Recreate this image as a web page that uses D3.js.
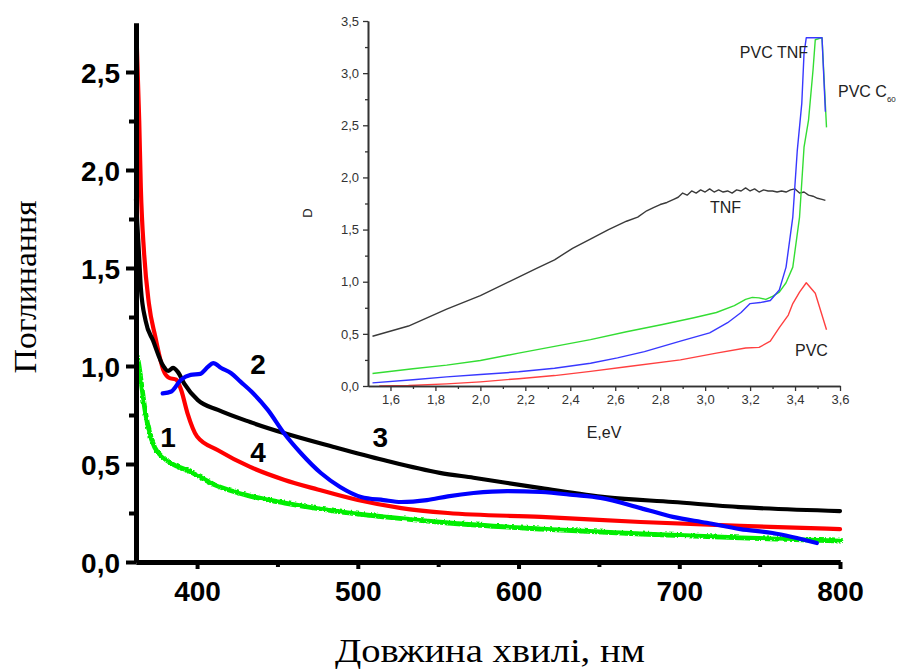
<!DOCTYPE html>
<html><head><meta charset="utf-8">
<script src="https://cdn.jsdelivr.net/npm/d3@7"></script>
<style>
html,body{margin:0;padding:0;background:#fff;}
svg{display:block;}
</style></head>
<body>
<svg id="chart" width="904" height="671"></svg>
<script>
// ---------- Main chart data (wavelength nm, absorbance) ----------
const curve1Wl  = [362, 363, 365, 367, 370, 373, 378, 384, 394, 410, 433, 454, 485, 516, 556, 614, 676, 738, 800];
const curve1Abs = [1.06, 1.02, 0.9, 0.78, 0.66, 0.59, 0.54, 0.505, 0.47, 0.40, 0.34, 0.306, 0.265, 0.235, 0.204, 0.173, 0.148, 0.128, 0.112];

const curve2Wl  = [378.6, 384, 390, 396, 402, 406.7, 410, 415, 421, 427, 435, 444, 454, 464.5, 477, 489, 502, 516, 527, 543, 556, 572, 593, 614, 634, 651, 676, 696, 717, 738, 758, 785.6];
const curve2Abs = [0.86, 0.87, 0.93, 0.955, 0.96, 0.995, 1.015, 0.99, 0.964, 0.92, 0.86, 0.776, 0.658, 0.556, 0.454, 0.383, 0.332, 0.316, 0.306, 0.316, 0.335, 0.352, 0.362, 0.357, 0.342, 0.327, 0.275, 0.23, 0.2, 0.168, 0.148, 0.097];

const curve3Wl  = [362, 363, 364, 365, 368, 372.6, 379, 382, 385, 388, 392, 400.5, 413, 433, 454, 485, 516, 551, 572, 614, 655, 696, 738, 800];
const curve3Abs = [1.85, 1.7, 1.55, 1.40, 1.23, 1.13, 1.0, 0.975, 0.99, 0.97, 0.91, 0.826, 0.776, 0.714, 0.658, 0.587, 0.52, 0.455, 0.43, 0.377, 0.33, 0.306, 0.28, 0.26];

const curve4Wl  = [362.5, 364, 365, 367, 370, 374, 379, 382.5, 387, 390, 394, 400, 413, 433, 454, 475, 500, 527, 556, 614, 676, 738, 800];
const curve4Abs = [2.64, 2.25, 1.91, 1.58, 1.32, 1.15, 0.98, 0.94, 0.93, 0.88, 0.76, 0.64, 0.57, 0.485, 0.42, 0.37, 0.316, 0.275, 0.25, 0.23, 0.204, 0.184, 0.168];

const curveLabels = ["1", "2", "3", "4"];
const curveLabelPos = [[382, 0.587], [438, 0.96], [514, 0.587], [438, 0.51]]; // [nm, abs] baseline anchor of each number

const mainXTicks = [400, 500, 600, 700, 800];
const mainXMinor = [450, 550, 650, 750];
const mainYTicks = [0, 0.5, 1.0, 1.5, 2.0, 2.5];
const mainYMinor = [0.25, 0.75, 1.25, 1.75, 2.25];

// ---------- Inset data (energy eV, optical density D) ----------
const tnfE = [1.52, 1.68, 1.85, 2.0, 2.17, 2.25, 2.33, 2.41, 2.5, 2.57, 2.65, 2.70, 2.74, 2.77, 2.80, 2.83, 2.86, 2.88, 2.90, 2.92, 2.94, 2.96, 2.98, 3.00, 3.02, 3.04, 3.06, 3.08, 3.10, 3.12, 3.14, 3.16, 3.18, 3.20, 3.22, 3.24, 3.26, 3.28, 3.30, 3.32, 3.34, 3.36, 3.38, 3.40, 3.42, 3.44, 3.46, 3.48, 3.50, 3.52, 3.535];
const tnfD = [0.477, 0.575, 0.737, 0.867, 1.045, 1.127, 1.21, 1.32, 1.42, 1.5, 1.58, 1.62, 1.68, 1.71, 1.74, 1.76, 1.79, 1.81, 1.85, 1.83, 1.87, 1.85, 1.88, 1.86, 1.89, 1.86, 1.88, 1.86, 1.87, 1.85, 1.88, 1.87, 1.90, 1.87, 1.89, 1.86, 1.88, 1.87, 1.87, 1.86, 1.87, 1.86, 1.88, 1.89, 1.85, 1.86, 1.83, 1.82, 1.80, 1.79, 1.78];

const pvcTnfE = [1.52, 1.7, 1.85, 2.0, 2.17, 2.33, 2.49, 2.61, 2.73, 2.89, 3.02, 3.1, 3.16, 3.2, 3.245, 3.29, 3.33, 3.36, 3.39, 3.41, 3.43, 3.44, 3.45, 3.52, 3.535];
const pvcTnfD = [0.03, 0.06, 0.088, 0.11, 0.136, 0.17, 0.218, 0.27, 0.33, 0.43, 0.51, 0.607, 0.705, 0.79, 0.80, 0.82, 0.92, 1.14, 1.62, 2.26, 2.71, 3.19, 3.34, 3.34, 2.63];

const pvcC60E = [1.52, 1.7, 1.85, 2.0, 2.17, 2.33, 2.49, 2.65, 2.81, 2.95, 3.05, 3.13, 3.18, 3.21, 3.24, 3.27, 3.30, 3.33, 3.36, 3.39, 3.42, 3.44, 3.46, 3.48, 3.49, 3.52, 3.54];
const pvcC60D = [0.12, 0.165, 0.2, 0.245, 0.315, 0.38, 0.445, 0.52, 0.59, 0.655, 0.705, 0.77, 0.83, 0.85, 0.845, 0.83, 0.86, 0.9, 0.99, 1.14, 1.62, 2.29, 2.55, 3.03, 3.32, 3.34, 2.48];

const pvcE = [1.55, 1.68, 1.85, 2.0, 2.17, 2.33, 2.49, 2.65, 2.89, 3.05, 3.18, 3.24, 3.29, 3.33, 3.37, 3.39, 3.42, 3.45, 3.49, 3.54];
const pvcD = [0.0, 0.005, 0.02, 0.04, 0.07, 0.1, 0.14, 0.185, 0.25, 0.315, 0.364, 0.37, 0.43, 0.56, 0.68, 0.79, 0.9, 0.99, 0.89, 0.54];

const insetXTicks = [1.6, 1.8, 2.0, 2.2, 2.4, 2.6, 2.8, 3.0, 3.2, 3.4, 3.6];
const insetXMinor = [1.7, 1.9, 2.1, 2.3, 2.5, 2.7, 2.9, 3.1, 3.3, 3.5];
const insetYTicks = [0, 0.5, 1.0, 1.5, 2.0, 2.5, 3.0, 3.5];
const insetYMinor = [0.25, 0.75, 1.25, 1.75, 2.25, 2.75, 3.25];

// ---------- Drawing ----------
const svg = d3.select("#chart");
const comma = d => d3.format(".1f")(d).replace(".", ",");
const zip = (xs, ys) => xs.map((x, i) => [x, ys[i]]);

// filter for slightly noisy green trace
const defs = svg.append("defs");
const f = defs.append("filter").attr("id", "noise").attr("x", "-5%").attr("y", "-20%").attr("width", "110%").attr("height", "140%");
f.append("feTurbulence").attr("type", "turbulence").attr("baseFrequency", "0.3").attr("numOctaves", 1).attr("seed", 3).attr("result", "t");
f.append("feDisplacementMap").attr("in", "SourceGraphic").attr("in2", "t").attr("scale", 2.2).attr("xChannelSelector", "R").attr("yChannelSelector", "G");

// main scales
const x = d3.scaleLinear().domain([362, 800]).range([136, 840]);
const y = d3.scaleLinear().domain([0, 2.75]).range([562, 23]);

const main = svg.append("g");
const line = d3.line().x(d => x(d[0])).y(d => y(d[1])).curve(d3.curveMonotoneX);

const mainSeries = [
  {d: zip(curve1Wl, curve1Abs), c: "#00ee00", w: 4.8, filt: true},
  {d: zip(curve4Wl, curve4Abs), c: "#ff0000", w: 4.2},
  {d: zip(curve3Wl, curve3Abs), c: "#000000", w: 4.2},
  {d: zip(curve2Wl, curve2Abs), c: "#0000ff", w: 4.2}
];
mainSeries.forEach(s => {
  main.append("path").attr("d", line(s.d)).attr("fill", "none")
    .attr("stroke", s.c).attr("stroke-width", s.w).attr("stroke-linejoin", "round").attr("stroke-linecap", "round")
    .attr("filter", s.filt ? "url(#noise)" : null);
});

// main axes
main.append("g").attr("transform", "translate(0,562)")
  .call(d3.axisBottom(x).tickValues(mainXTicks).tickFormat(d3.format("d")).tickSize(7).tickSizeOuter(0).tickPadding(12));
main.append("g").attr("transform", "translate(0,562)")
  .call(d3.axisBottom(x).tickValues(mainXMinor).tickFormat("").tickSize(5).tickSizeOuter(0));
const yAxis = main.append("g").attr("transform", "translate(136,0)")
  .call(d3.axisLeft(y).tickValues(mainYTicks).tickFormat(comma).tickSize(10).tickSizeOuter(0).tickPadding(6));
main.append("g").attr("transform", "translate(136,0)")
  .call(d3.axisLeft(y).tickValues(mainYMinor).tickFormat("").tickSize(7).tickSizeOuter(0));
main.selectAll(".domain").attr("stroke", "#000").attr("stroke-width", 5);
main.selectAll(".tick line").attr("stroke", "#000").attr("stroke-width", 4);
main.selectAll(".tick text").attr("font-family", "Liberation Sans, Arial, sans-serif")
  .attr("font-weight", "bold").attr("font-size", 28).attr("fill", "#000");
yAxis.selectAll(".tick text").attr("dy", "0.36em");

// curve labels
main.selectAll("text.clabel").data(curveLabels).join("text").attr("class", "clabel")
  .attr("x", (d, i) => x(curveLabelPos[i][0])).attr("y", (d, i) => y(curveLabelPos[i][1]))
  .attr("text-anchor", "middle").attr("font-family", "Liberation Sans, Arial, sans-serif")
  .attr("font-weight", "bold").attr("font-size", 28).text(d => d);

// titles
svg.append("text").attr("transform", "translate(36,287) rotate(-90)").attr("text-anchor", "middle")
  .attr("font-family", "Liberation Serif, Times New Roman, serif").attr("font-size", 32)
  .attr("textLength", 173).attr("lengthAdjust", "spacingAndGlyphs").text("Поглинання");
svg.append("text").attr("x", 490).attr("y", 662).attr("text-anchor", "middle")
  .attr("font-family", "Liberation Serif, Times New Roman, serif").attr("font-size", 33)
  .attr("textLength", 310).attr("lengthAdjust", "spacingAndGlyphs").text("Довжина хвилі, нм");

// ---------- inset ----------
const ix = d3.scaleLinear().domain([1.5, 3.6]).range([368, 840]);
const iy = d3.scaleLinear().domain([0, 3.5]).range([386, 21]);
const inset = svg.append("g");
const iline = d3.line().x(d => ix(d[0])).y(d => iy(d[1]));
const insetSeries = [
  {d: zip(tnfE, tnfD), c: "#3a3a3a"},
  {d: zip(pvcE, pvcD), c: "#ff4040"},
  {d: zip(pvcC60E, pvcC60D), c: "#33dd33"},
  {d: zip(pvcTnfE, pvcTnfD), c: "#3838ff"}
];
insetSeries.forEach(s => {
  inset.append("path").attr("d", iline(s.d)).attr("fill", "none").attr("stroke", s.c)
    .attr("stroke-width", 1.4).attr("stroke-linejoin", "round");
});
inset.append("g").attr("transform", "translate(0,386)")
  .call(d3.axisBottom(ix).tickValues(insetXTicks).tickFormat(comma).tickSize(5).tickSizeOuter(0).tickPadding(4));
inset.append("g").attr("transform", "translate(0,386)")
  .call(d3.axisBottom(ix).tickValues(insetXMinor).tickFormat("").tickSize(3).tickSizeOuter(0));
inset.append("g").attr("transform", "translate(368,0)")
  .call(d3.axisLeft(iy).tickValues(insetYTicks).tickFormat(comma).tickSize(5).tickSizeOuter(0).tickPadding(4));
inset.append("g").attr("transform", "translate(368,0)")
  .call(d3.axisLeft(iy).tickValues(insetYMinor).tickFormat("").tickSize(3).tickSizeOuter(0));
inset.selectAll(".domain").attr("stroke", "#333").attr("stroke-width", 1.6);
inset.selectAll(".tick line").attr("stroke", "#333").attr("stroke-width", 1.3);
inset.selectAll(".tick text").attr("font-family", "Liberation Sans, Arial, sans-serif")
  .attr("font-size", 13).attr("fill", "#333");

const lab = (t, xx, yy, anchor) => inset.append("text").attr("x", xx).attr("y", yy)
  .attr("text-anchor", anchor || "start").attr("font-family", "Liberation Sans, Arial, sans-serif")
  .attr("font-size", 16).attr("fill", "#222").text(t);
lab("PVC TNF", 808, 58, "end");
const c60 = lab("PVC C", 838, 97);
c60.append("tspan").attr("font-size", 8).attr("dy", 5).text("60");
lab("TNF", 710, 213);
lab("PVC", 795, 356);
lab("E,eV", 604, 438, "middle");
inset.append("text").attr("transform", "translate(312,213) rotate(-90)").attr("text-anchor", "middle")
  .attr("font-family", "Liberation Sans, Arial, sans-serif").attr("font-size", 13).attr("fill", "#222").text("D");
</script>
</body></html>
